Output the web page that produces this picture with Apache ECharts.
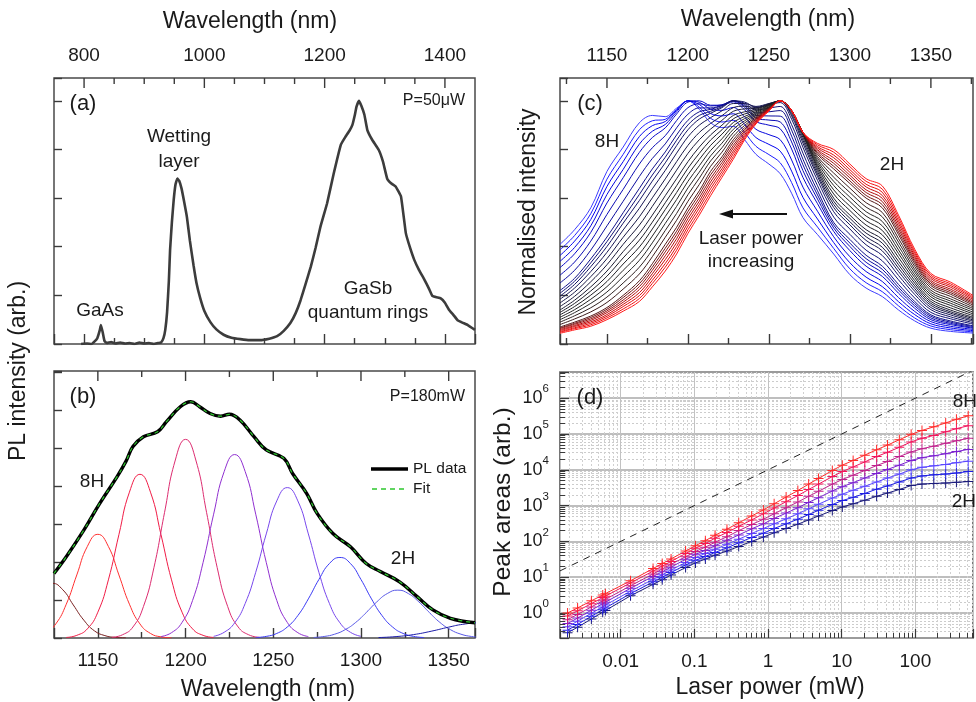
<!DOCTYPE html>
<html><head><meta charset="utf-8">
<script src="https://cdn.jsdelivr.net/npm/echarts@6/dist/echarts.min.js"></script>
<style>html,body{margin:0;padding:0;background:#fff}#c{width:976px;height:702px}</style>
</head><body><div id="c"></div>
<script>
// ---------- Panel (a): PL spectrum at 50 uW ----------
const waveA = [795,805,812,818,822,826,828,831,834,838,845,852,860,868,876,884,892,900,908,916,923,928,932,935,938,941,943,946,949,952,955,958,962,966,971,976,982,987,993,1000,1010,1020,1032,1045,1060,1075,1093,1108,1121,1132,1143,1152,1160,1168,1177,1185,1193,1204,1215,1227,1234,1241,1246,1250,1253,1257,1261,1266,1271,1279,1290,1297,1304,1311,1318,1327,1335,1342,1349,1357,1366,1373,1379,1386,1393,1400,1407,1414,1421,1429,1438,1450];
const plA = [0.0,0.01,0.0,0.06,0.12,0.28,0.39,0.24,0.06,0.02,0.04,0.01,0.03,0.01,0.02,0.0,0.03,0.01,0.02,0.0,0.02,0.03,0.12,0.29,0.65,1.3,1.93,2.5,2.96,3.28,3.40,3.36,3.2,2.95,2.61,2.12,1.62,1.25,0.95,0.68,0.45,0.3,0.19,0.13,0.10,0.08,0.08,0.11,0.16,0.27,0.43,0.64,0.9,1.22,1.59,1.98,2.41,2.89,3.5,4.1,4.25,4.38,4.5,4.7,4.88,5.0,4.9,4.72,4.4,4.2,3.99,3.75,3.4,3.3,3.24,3.03,2.28,1.98,1.73,1.52,1.32,1.15,0.99,0.96,0.94,0.85,0.70,0.60,0.49,0.44,0.39,0.29];

// ---------- Panel (b): PL at 180 mW and Gaussian components ----------
const waveB = [1125,1132,1142,1151,1161,1166,1170,1176,1184,1189,1197,1203,1208,1214,1220,1225,1231,1239,1246,1256,1261,1269,1275,1284,1294,1303,1311,1322,1332,1341,1351,1365];
const plB = [1.70,2.14,2.84,3.54,4.25,4.65,5.04,5.30,5.43,5.69,6.09,6.22,6.09,5.91,5.84,5.89,5.74,5.30,4.95,4.73,4.33,3.81,3.28,2.75,2.40,1.96,1.75,1.48,1.09,0.74,0.52,0.40];
const fitB = plB;
const peak9H = [[1100,0.19],[1106,0.47],[1112,0.87],[1118,1.27],[1124,1.44],[1130,1.27],[1136,0.87],[1142,0.47],[1148,0.19],[1154,0.063],[1160,0.016],[1166,0.003]];
const peak8H = [[1108,0.005],[1114,0.03],[1120,0.12],[1126,0.37],[1132,0.89],[1138,1.66],[1144,2.41],[1150,2.73],[1156,2.41],[1162,1.66],[1168,0.89],[1174,0.37],[1180,0.12],[1186,0.03],[1192,0.005]];
const peak7H = [[1132,0.015],[1138,0.07],[1144,0.24],[1150,0.68],[1156,1.53],[1162,2.72],[1168,3.84],[1174,4.31],[1180,3.84],[1186,2.72],[1192,1.53],[1198,0.68],[1204,0.24],[1210,0.07],[1216,0.015]];
const peak6H = [[1158,0.018],[1164,0.084],[1170,0.29],[1176,0.83],[1182,1.86],[1188,3.30],[1194,4.66],[1200,5.23],[1206,4.66],[1212,3.30],[1218,1.86],[1224,0.83],[1230,0.29],[1236,0.084],[1242,0.018]];
const peak5H = [[1186,0.038],[1192,0.14],[1198,0.41],[1204,0.99],[1210,1.99],[1216,3.26],[1222,4.38],[1228,4.83],[1234,4.38],[1240,3.26],[1246,1.99],[1252,0.99],[1258,0.41],[1264,0.14],[1270,0.038]];
const peak4H = [[1216,0.044],[1222,0.15],[1228,0.40],[1234,0.91],[1240,1.73],[1246,2.74],[1252,3.61],[1258,3.96],[1264,3.61],[1270,2.74],[1276,1.73],[1282,0.91],[1288,0.40],[1294,0.15],[1300,0.044]];
const peak3H = [[1240,0.013],[1246,0.042],[1252,0.12],[1258,0.29],[1264,0.59],[1270,1.03],[1276,1.54],[1282,1.96],[1288,2.12],[1294,1.96],[1300,1.54],[1306,1.03],[1312,0.59],[1318,0.29],[1324,0.12],[1330,0.042],[1336,0.013]];
const peak2H = [[1273,0.014],[1279,0.040],[1285,0.10],[1291,0.22],[1297,0.41],[1303,0.67],[1309,0.95],[1315,1.17],[1321,1.26],[1327,1.17],[1333,0.95],[1339,0.67],[1345,0.41],[1351,0.22],[1357,0.10],[1363,0.040],[1369,0.014]];
const peak1H = [[1310,0.012],[1320,0.037],[1330,0.09],[1340,0.178],[1350,0.286],[1358,0.36],[1368,0.40],[1378,0.36]];

// ---------- Panel (c): normalised spectra, lowest power (row 0) to highest power (last row) ----------
const specWave = [1121,1130,1140,1150,1160,1170,1178,1186,1193,1200,1207,1214,1221,1228,1235,1242,1250,1257,1264,1271,1280,1290,1300,1310,1320,1330,1340,1350,1362,1376];
const normSpectra = [
[.044,.058,.073,.100,.135,.175,.235,.300,.370,.455,.530,.610,.685,.760,.840,.905,.958,1.00,.960,.870,.825,.800,.740,.680,.650,.530,.390,.290,.255,.200],
[.048,.063,.079,.107,.144,.187,.249,.316,.386,.470,.544,.624,.697,.771,.847,.909,.960,1,.96,.87,.819,.789,.729,.669,.637,.519,.381,.283,.248,.194],
[.051,.067,.085,.114,.154,.199,.262,.331,.401,.485,.559,.639,.709,.783,.854,.912,.961,1,.96,.87,.812,.777,.717,.657,.624,.507,.373,.276,.241,.189],
[.055,.072,.091,.121,.163,.211,.276,.347,.417,.500,.573,.653,.721,.794,.861,.916,.963,1,.96,.87,.806,.766,.706,.646,.611,.496,.364,.269,.234,.183],
[.059,.076,.097,.129,.172,.224,.289,.363,.433,.515,.587,.667,.734,.806,.869,.919,.965,1,.96,.87,.799,.754,.694,.634,.599,.484,.356,.261,.226,.177],
[.063,.081,.103,.136,.181,.236,.303,.379,.449,.530,.601,.681,.746,.817,.876,.923,.967,1,.96,.87,.793,.743,.683,.623,.586,.473,.347,.254,.219,.171],
[.066,.085,.109,.143,.191,.248,.316,.394,.464,.545,.616,.696,.758,.829,.883,.926,.968,1,.96,.87,.786,.731,.671,.611,.573,.461,.339,.247,.212,.166],
[.070,.090,.115,.150,.200,.260,.330,.410,.480,.560,.630,.710,.770,.840,.890,.930,.970,1,.96,.87,.780,.720,.660,.600,.560,.450,.330,.240,.205,.160],
[.080,.103,.132,.171,.226,.288,.359,.439,.509,.587,.656,.731,.789,.854,.899,.935,.972,1,.96,.869,.771,.703,.641,.581,.541,.434,.319,.231,.196,.153],
[.090,.116,.149,.193,.251,.316,.387,.467,.537,.614,.682,.753,.807,.869,.909,.940,.974,1,.96,.867,.763,.686,.623,.563,.523,.419,.307,.221,.186,.146],
[.100,.129,.167,.214,.277,.344,.416,.496,.566,.642,.707,.774,.826,.883,.918,.945,.976,1,.96,.866,.754,.669,.604,.544,.504,.403,.296,.212,.177,.139],
[.110,.141,.184,.236,.303,.371,.444,.524,.594,.669,.733,.796,.844,.897,.927,.950,.979,1,.96,.864,.746,.652,.586,.526,.486,.387,.284,.203,.168,.131],
[.120,.154,.201,.257,.329,.399,.473,.553,.623,.696,.759,.817,.863,.911,.936,.955,.981,1,.96,.863,.737,.634,.567,.507,.467,.372,.273,.194,.159,.124],
[.130,.167,.218,.279,.354,.427,.501,.581,.651,.723,.784,.839,.881,.926,.946,.960,.983,1,.96,.861,.729,.617,.549,.489,.449,.356,.261,.184,.149,.117],
[.140,.180,.235,.300,.380,.455,.530,.610,.680,.750,.810,.860,.900,.940,.955,.965,.985,1,.96,.86,.72,.60,.53,.47,.43,.34,.25,.175,.14,.11],
[.154,.196,.256,.326,.410,.489,.566,.645,.715,.784,.840,.884,.920,.957,.967,.969,.987,1,.953,.849,.710,.587,.517,.456,.415,.326,.239,.167,.133,.105],
[.169,.213,.277,.351,.439,.523,.601,.679,.750,.817,.870,.907,.939,.972,.978,.972,.988,1,.945,.838,.699,.574,.503,.441,.398,.312,.228,.159,.127,.099],
[.184,.230,.298,.377,.469,.558,.638,.714,.785,.852,.900,.931,.959,.989,.989,.977,.989,1,.938,.826,.689,.561,.490,.426,.383,.298,.217,.150,.120,.094],
[.197,.245,.318,.401,.497,.590,.670,.745,.816,.881,.925,.949,.972,1,.995,.974,.984,.993,.925,.809,.673,.544,.473,.408,.364,.282,.204,.141,.112,.088],
[.209,.258,.334,.421,.518,.615,.695,.768,.838,.901,.940,.957,.976,1,.990,.962,.970,.977,.902,.785,.651,.522,.451,.386,.342,.264,.189,.130,.104,.082],
[.220,.270,.350,.440,.540,.640,.720,.790,.860,.920,.955,.965,.980,1,.985,.950,.955,.960,.880,.760,.630,.500,.430,.365,.320,.245,.175,.120,.095,.075],
[.251,.303,.386,.486,.587,.689,.763,.823,.889,.945,.971,.971,.982,1,.979,.940,.938,.937,.855,.737,.613,.489,.415,.351,.307,.233,.166,.114,.090,.072],
[.283,.337,.423,.533,.636,.740,.807,.857,.919,.972,.988,.979,.984,1,.973,.929,.921,.913,.831,.713,.596,.477,.401,.336,.293,.222,.157,.107,.085,.068],
[.314,.371,.459,.580,.684,.788,.849,.889,.946,.995,1,.982,.982,.996,.963,.915,.900,.885,.802,.685,.577,.463,.384,.320,.278,.209,.147,.100,.080,.065],
[.340,.397,.486,.615,.718,.822,.875,.903,.955,1,.994,.966,.961,.973,.934,.883,.861,.840,.757,.645,.546,.441,.359,.298,.257,.191,.134,.092,.073,.060],
[.364,.423,.512,.648,.750,.853,.898,.915,.961,1,.985,.948,.938,.947,.903,.849,.821,.793,.711,.603,.514,.417,.334,.275,.236,.174,.121,.083,.066,.055],
[.387,.446,.536,.678,.780,.881,.918,.924,.965,1,.974,.928,.913,.920,.870,.813,.779,.745,.664,.560,.481,.393,.309,.252,.215,.157,.107,.074,.059,.050],
[.410,.470,.560,.710,.810,.910,.940,.935,.970,1.00,.965,.910,.890,.895,.840,.780,.740,.700,.620,.520,.450,.370,.285,.230,.195,.140,.095,.065,.052,.045]
];

// ---------- Panel (d): peak areas vs laser power ----------
const laserPower = [0.0019,0.0026,0.0040,0.0057,0.0062,0.0136,0.0275,0.0366,0.0483,0.076,0.1035,0.141,0.191,0.277,0.40,0.60,0.865,1.21,1.76,2.54,3.56,4.85,7.46,10.2,14.3,20.6,29.8,41.9,60.6,87.7,123,178,258,361,522];
const area8H = [1.0,1.38,2.19,3.16,3.47,7.94,17.4,24.0,32.4,53.7,75.9,105,148,219,331,513,759,1122,1738,2630,3981,5754,9550,13490,18200,25700,36300,48980,69180,97720,125900,158500,204200,257000,323600];
const area7H = [0.83,1.15,1.82,2.69,2.95,6.92,14.8,20.4,27.5,45.7,64.6,87,123,178,263,398,589,851,1288,1905,2818,3981,6457,8913,12020,16600,23440,30900,42660,60260,75860,91200,114800,141300,169800];
const area6H = [0.65,0.91,1.48,2.19,2.40,5.75,12.3,17.0,22.9,37.2,52.5,69,95,135,200,295,417,589,871,1259,1820,2512,3981,5370,7080,9550,13180,16980,23440,31620,38900,45710,54950,64570,75860];
const area5H = [0.51,0.72,1.20,1.82,2.0,4.90,10.5,14.1,19.1,31.6,43.7,56,76,107,151,224,309,437,617,871,1230,1660,2570,3388,4365,5890,7940,10230,13490,18200,21880,24550,28180,32360,37150];
const area4H = [0.41,0.59,0.98,1.48,1.66,4.07,8.7,11.7,15.8,25.7,35.5,46,60,83,115,166,229,309,427,589,813,1096,1622,2089,2692,3467,4570,5890,7590,10000,11750,12880,14130,15850,17380];
const area3H = [0.33,0.48,0.81,1.23,1.38,3.47,7.4,10.0,13.5,21.9,29.5,38,49,66,91,129,170,229,309,417,562,741,1072,1380,1698,2188,2884,3548,4570,5888,6761,7244,7586,8128,8913];
const area2H = [0.28,0.40,0.68,1.05,1.17,3.02,6.3,8.5,11.5,18.6,25.1,32,41,54,72,100,132,174,229,302,398,513,724,912,1122,1413,1820,2239,2818,3631,3981,4169,4266,4467,4677];
const linearGuide = [[0.0015,15],[600,6.0e6]];

// ---------- tick values for the top frame edges ----------
const topTicksA = [800,850,900,950,1000,1050,1100,1150,1200,1250,1300,1350,1400];
const topTicksB = [1150,1175,1200,1225,1250,1275,1300,1325,1350];
const topTicksC = [1125,1150,1175,1200,1225,1250,1275,1300,1325,1350,1375];

// ---------- styles ----------
const FONT = '"Liberation Sans", Arial, sans-serif';
const TXT = '#1a1a1a';
const AX = '#3a3a3a';
const zip = (xs, ys) => xs.map((x, i) => [x, ys[i]]);
const specColors = ['#ff1a1a','#f21212','#e20c0c','#cc0a0a','#b40c0c','#961212','#761616','#561a1a','#3e1e1e','#302222','#282828','#242424','#202024','#1e1e28','#1c1c30','#1a1a3a','#181846','#161654','#141464','#121276','#10108a','#0c0c9e','#0a0ab4','#0808ca','#0606de','#0404ef','#1e1eff','#3c3cff'];
const peakColors = {p9:'#7a2222', p8:'#ff3030', p7:'#f01c46', p6:'#dc2c70', p5:'#9030d0', p4:'#7848ec', p3:'#3a3af4', p2:'#5a5ae6', p1:'#1c1ca8'};
const areaColors = {a8:'#ff2a2a', a7:'#f2145c', a6:'#c0208c', a5:'#7a1ed0', a4:'#5a46ff', a3:'#1c1ce2', a2:'#1a1a7a'};
const plus = 'path://M0,4.5H10V5.5H0Z M4.5,0H5.5V10H4.5Z';

function linX(gi, pos, min, max, showLab, step, major, minor) {
  return {
    gridIndex: gi, type: 'value', position: pos, min: min, max: max, splitNumber: step.split,
    axisLine: {show: false, onZero: false},
    axisTick: {show: major, inside: true, length: 10, lineStyle: {color: AX, width: 1.4}},
    minorTick: {show: minor, splitNumber: step.minor, length: 6, lineStyle: {color: AX, width: 1.4}},
    splitLine: {show: false},
    axisLabel: {show: showLab, fontSize: 19, fontFamily: FONT, color: TXT, margin: 13,
      formatter: v => (Math.abs(v % step.lab) < 1e-6 ? String(v) : '')}
  };
}
function linY(gi, max, interval) {
  return {
    gridIndex: gi, type: 'value', min: 0, max: max, interval: interval,
    axisLine: {show: false, onZero: false},
    axisTick: {show: true, inside: true, length: 8, lineStyle: {color: AX, width: 1.4}},
    axisLabel: {show: false}, splitLine: {show: false}
  };
}
const stA = {lab: 200, minor: 4, split: 3}, stB = {lab: 50, minor: 2, split: 5};
const isDecade = v => { const e = Math.log10(v); return Math.abs(e - Math.round(e)) < 1e-6; };
const xD = {
  gridIndex: 3, type: 'log', min: 0.0015, max: 606, splitNumber: 6, position: 'bottom',
  axisLine: {show: false, onZero: false},
  axisTick: {show: true, inside: true, length: 9, lineStyle: {color: AX, width: 1.2}},
  minorTick: {show: true, splitNumber: 9, length: 5, lineStyle: {color: AX, width: 1}},
  splitLine: {show: true, lineStyle: {color: '#c2c2c2', width: 1}},
  minorSplitLine: {show: true, lineStyle: {color: '#d0d0d0', width: 1, type: [2, 2]}},
  axisLabel: {fontSize: 19, fontFamily: FONT, color: TXT, margin: 14,
    formatter: v => (isDecade(v) ? String(+(+v).toPrecision(3)) : '')}
};
const yD = {
  gridIndex: 3, type: 'log', min: 0.2, max: 5.4e6, splitNumber: 8,
  axisLine: {show: false, onZero: false},
  axisTick: {show: true, inside: true, length: 9, lineStyle: {color: AX, width: 1.2}},
  minorTick: {show: true, splitNumber: 9, length: 5, lineStyle: {color: AX, width: 1}},
  splitLine: {show: true, lineStyle: {color: '#a8a8a8', width: 1.6}},
  minorSplitLine: {show: true, lineStyle: {color: '#cccccc', width: 1, type: [2, 2]}},
  axisLabel: {margin: 11, color: TXT,
    formatter: v => (isDecade(v) ? '{b|10}{s|' + Math.round(Math.log10(v)) + '}' : ''),
    rich: {
      b: {fontSize: 18, fontFamily: FONT, color: TXT, lineHeight: 30},
      s: {fontSize: 11.5, fontFamily: FONT, color: TXT, lineHeight: 12, verticalAlign: 'top'}
    }}
};

const gridStyle = {show: true, borderColor: '#4a4a4a', borderWidth: 1.5};
const grids = [
  Object.assign({left: 54, top: 78, width: 421, height: 266}, gridStyle),
  Object.assign({left: 54, top: 371, width: 421, height: 267}, gridStyle),
  Object.assign({left: 560, top: 78, width: 419, height: 266}, gridStyle),
  Object.assign({left: 560, top: 372, width: 419, height: 266}, gridStyle)
];
const xAxes = [
  linX(0, 'top', 750, 1450, true, stA, false, false),     // 0: (a) labels on top
  linX(0, 'bottom', 750, 1450, false, stA, true, true),   // 1: (a) bottom ticks
  linX(1, 'bottom', 1125, 1365, true, stB, true, true),   // 2: (b) bottom
  linX(2, 'top', 1121, 1376, true, stB, false, false),    // 3: (c) labels on top
  linX(2, 'bottom', 1121, 1376, false, stB, true, true),  // 4: (c) bottom ticks
  xD                                                      // 5: (d)
];
const yAxes = [linY(0, 5.47, 1), linY(1, 7.03, 1), linY(2, 1.094, 0.2), yD];

const series = [];
// tick marks hanging down from the top frame edge, placed through the x scale of each panel
function topTickSeries(xi, yi, yTop, ticks, majorStep) {
  series.push({
    type: 'custom', xAxisIndex: xi, yAxisIndex: yi, z: 20,
    data: ticks.map(v => [v, yTop]),
    renderItem: (params, api) => {
      const v = api.value(0);
      const p = api.coord([v, api.value(1)]);
      const len = (Math.abs(v % majorStep) < 1e-6) ? 10 : 6;
      return {type: 'line', shape: {x1: p[0], y1: p[1], x2: p[0], y2: p[1] + len},
        style: {stroke: AX, lineWidth: 1.4}};
    }
  });
}
topTickSeries(1, 0, 5.47, topTicksA, 200);
topTickSeries(2, 1, 7.03, topTicksB, 50);
topTickSeries(4, 2, 1.094, topTicksC, 50);

series.push({type: 'line', xAxisIndex: 0, yAxisIndex: 0, data: zip(waveA, plA), showSymbol: false,
  smooth: 0.1, lineStyle: {color: '#3c3c3c', width: 2.6}, z: 3});

const peaks = [[peak9H,'p9'],[peak8H,'p8'],[peak7H,'p7'],[peak6H,'p6'],[peak5H,'p5'],[peak4H,'p4'],[peak3H,'p3'],[peak2H,'p2'],[peak1H,'p1']];
peaks.forEach(([d, k]) => series.push({type: 'line', xAxisIndex: 2, yAxisIndex: 1, data: d, showSymbol: false,
  smooth: 0.5, lineStyle: {color: peakColors[k], width: 1}, z: 2}));
series.push({type: 'line', xAxisIndex: 2, yAxisIndex: 1, data: zip(waveB, plB), showSymbol: false, smooth: 0.4,
  lineStyle: {color: '#000', width: 3.4}, z: 4});
series.push({type: 'line', xAxisIndex: 2, yAxisIndex: 1, data: zip(waveB, fitB), showSymbol: false, smooth: 0.4,
  lineStyle: {color: '#2ec82e', width: 1.2, type: [4, 4]}, z: 5});

for (let k = normSpectra.length - 1; k >= 0; k--) {
  series.push({type: 'line', xAxisIndex: 3, yAxisIndex: 2, data: zip(specWave, normSpectra[k]), showSymbol: false,
    smooth: 0.35, lineStyle: {color: specColors[k], width: 1}, z: 3});
}

series.push({type: 'line', xAxisIndex: 5, yAxisIndex: 3, data: linearGuide, showSymbol: false,
  lineStyle: {color: '#222', width: 1, type: [7, 6]}, z: 3});
const areas = [[area2H,'a2'],[area3H,'a3'],[area4H,'a4'],[area5H,'a5'],[area6H,'a6'],[area7H,'a7'],[area8H,'a8']];
areas.forEach(([d, k]) => series.push({type: 'line', xAxisIndex: 5, yAxisIndex: 3, data: zip(laserPower, d),
  symbol: plus, symbolSize: 10, showAllSymbol: true, lineStyle: {color: areaColors[k], width: 1},
  itemStyle: {color: areaColors[k]}, z: 4}));

function txt(x, y, s, size, align, rot) {
  const e = {type: 'text', x: x, y: y, z: 100,
    style: {text: s, font: size + 'px ' + FONT, fill: TXT, textAlign: align || 'center', align: align || 'center',
      textVerticalAlign: 'middle', verticalAlign: 'middle'}};
  if (rot) e.rotation = rot;
  return e;
}
const graphics = [
  txt(250, 22, 'Wavelength (nm)', 23), txt(768, 20, 'Wavelength (nm)', 23),
  txt(268, 690, 'Wavelength (nm)', 23), txt(770, 688, 'Laser power (mW)', 23),
  txt(19, 371, 'PL intensity (arb.)', 23, 'center', Math.PI / 2),
  txt(529, 212, 'Normalised intensity', 23, 'center', Math.PI / 2),
  txt(503, 502, 'Peak areas (arb.)', 24.5, 'center', Math.PI / 2),
  txt(83, 104, '(a)', 22), txt(465, 101, 'P=50\u03bcW', 16, 'right'),
  txt(179, 137, 'Wetting', 19), txt(179, 162, 'layer', 19), txt(100, 311, 'GaAs', 19),
  txt(368, 289, 'GaSb', 19), txt(368, 313, 'quantum rings', 19),
  txt(83, 397, '(b)', 22), txt(465, 397, 'P=180mW', 16, 'right'),
  txt(92, 482, '8H', 19), txt(403, 559, '2H', 19),
  txt(413, 469, 'PL data', 15.5, 'left'), txt(413, 489, 'Fit', 15.5, 'left'),
  {type: 'line', z: 100, shape: {x1: 371, y1: 469, x2: 408, y2: 469}, style: {stroke: '#000', lineWidth: 3.4}},
  {type: 'line', z: 100, shape: {x1: 372, y1: 489, x2: 406, y2: 489}, style: {stroke: '#2ec82e', lineWidth: 1.3, lineDash: [5, 4]}},
  txt(590, 104, '(c)', 22), txt(607, 142, '8H', 19), txt(892, 165, '2H', 19),
  {type: 'line', z: 100, shape: {x1: 787, y1: 214, x2: 730, y2: 214}, style: {stroke: '#111', lineWidth: 2}},
  {type: 'polygon', z: 100, shape: {points: [[719, 214], [733, 209.5], [733, 218.5]]}, style: {fill: '#111'}},
  txt(751, 239, 'Laser power', 19), txt(751, 262, 'increasing', 19),
  txt(590, 398, '(d)', 22), txt(977, 402, '8H', 19, 'right'), txt(976, 502, '2H', 19, 'right')
];

const option = {
  animation: false, backgroundColor: '#fff',
  grid: grids,
  xAxis: xAxes,
  yAxis: yAxes,
  series: series,
  graphic: {elements: graphics}
};
const chart = echarts.init(document.getElementById('c'), null, {renderer: 'canvas'});
chart.setOption(option);
</script></body></html>
